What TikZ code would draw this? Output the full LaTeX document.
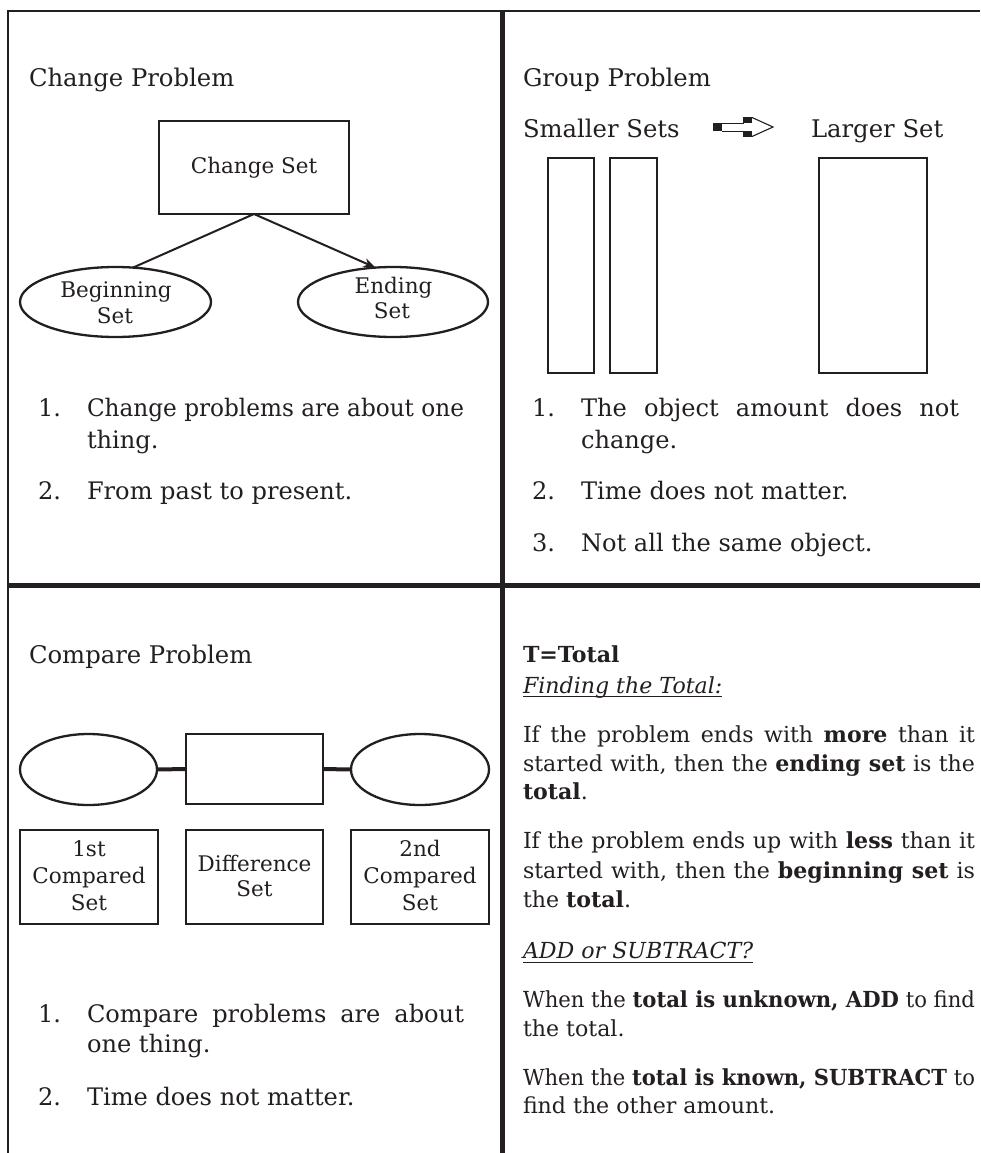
\documentclass[tikz,border=0pt]{standalone}
\usepackage{graphicx}
\usepackage{fontspec}
\setmainfont{DejaVu Serif}
\usetikzlibrary{shapes.geometric,arrows.meta}
\definecolor{ink}{RGB}{35,31,32}
\newcommand{\fTitle}{\fontsize{24.3}{30}\selectfont}
\newcommand{\fList}{\fontsize{24.1}{32}\selectfont}
\newcommand{\fBody}{\fontsize{22.1}{28}\selectfont}
\newcommand{\fLab}{\fontsize{21.5}{27}\selectfont}
\newsavebox{\jlbox}
\newcommand{\jl}[2]{\sbox{\jlbox}{#2}\ifdim\wd\jlbox>#1\relax\resizebox{#1}{\ht\jlbox}{\usebox{\jlbox}}\else\makebox[#1][s]{#2}\fi}
\begin{document}
\begin{tikzpicture}[x=1pt,y=-1pt,
  txt/.style={inner sep=0pt, outer sep=0pt, anchor=base west, text=ink},
  ctxt/.style={inner sep=0pt, outer sep=0pt, anchor=base, text=ink},
  num/.style={inner sep=0pt, outer sep=0pt, anchor=base east, text=ink},
  title/.style={txt, font=\fTitle},
  listtxt/.style={txt, font=\fList},
  listnum/.style={num, font=\fList},
  body/.style={txt, font=\fBody},
  lab/.style={ctxt, font=\fLab},
  setbox/.style={draw=ink, line width=2.3pt, rectangle, inner sep=0pt, outer sep=0pt},
  setoval/.style={draw=ink, line width=2.3pt, ellipse, inner sep=0pt, outer sep=0pt},
  conn/.style={draw=ink, line width=2pt},
  thickconn/.style={draw=ink, line width=4pt},
  frame/.style={draw=ink, line width=2.5pt},
  divider/.style={draw=ink, line width=5pt}
]
\useasboundingbox (0,0) rectangle (980,1153);
\fill[white] (0,0) rectangle (980,1153);

% ---------- frame ----------
\draw[frame] (8,11) -- (980,11);
\draw[frame] (8,9.75) -- (8,1153);
\draw[divider] (502,9.75) -- (502,1153);
\draw[divider] (8,585.5) -- (980,585.5);

% ---------- Change Problem ----------
\node[title] (tchange) at (29,87) {Change Problem};
\node[setbox, minimum width=190pt, minimum height=93pt] (cs) at (254,167.5) {};
\node[lab] (csl) at (254,173) {Change Set};
\node[setoval, minimum width=191pt, minimum height=70pt] (beg) at (115.5,302) {};
\node[lab] (begl1) at (116,297) {Beginning};
\node[lab] (begl2) at (115,323) {Set};
\node[setoval, minimum width=190pt, minimum height=70pt] (endset) at (393,302) {};
\node[lab] (endl1) at (393.5,293) {Ending};
\node[lab] (endl2) at (392,318) {Set};
\draw[conn] (cs.south) -- (beg.63);
\draw[conn, -{Stealth[length=12pt,width=9pt]}] (cs.south) -- (endset.117);

\node[listnum] (cn1) at (61,416) {1.};
\node[listtxt] (ct1) at (87,416) {\jl{377pt}{Change problems are about one}};
\node[listtxt] (ct1b) at (87,448) {thing.};
\node[listnum] (cn2) at (61,499) {2.};
\node[listtxt] (ct2) at (87,499) {From past to present.};

% ---------- Group Problem ----------
\node[title] (tgroup) at (523,87) {Group Problem};
\node[title] (tsmall) at (523,137) {Smaller Sets};
\node[title] (tlarge) at (811,137) {Larger Set};
% arrow icon
\fill[ink] (713,123) rectangle (722,131);
\draw[ink, line width=0.9pt] (722,123) -- (744,123);
\draw[ink, line width=0.9pt] (722,131) -- (744,131);
\fill[ink] (743,117) rectangle (752,123);
\fill[ink] (743,131) rectangle (752,137);
\draw[ink, line width=1.1pt, line join=miter] (752,117.5) -- (773,127) -- (752,136.5);

\node[setbox, minimum width=46pt, minimum height=215pt] (s1) at (571,265.5) {};
\node[setbox, minimum width=47pt, minimum height=215pt] (s2) at (633.5,265.5) {};
\node[setbox, minimum width=108pt, minimum height=215pt] (lg) at (873,265.5) {};

\node[listnum] (gn1) at (555,416) {1.};
\node[listtxt] (gt1) at (581,416) {\jl{378pt}{The object amount does not}};
\node[listtxt] (gt1b) at (581,448) {change.};
\node[listnum] (gn2) at (555,499) {2.};
\node[listtxt] (gt2) at (581,499) {Time does not matter.};
\node[listnum] (gn3) at (555,551) {3.};
\node[listtxt] (gt3) at (581,551) {Not all the same object.};

% ---------- Compare Problem ----------
\node[title] (tcompare) at (29,663) {Compare Problem};
\node[setoval, minimum width=137pt, minimum height=71pt] (e1) at (88.5,769.5) {};
\node[setbox, minimum width=137pt, minimum height=70pt] (dr) at (254.5,769) {};
\node[setoval, minimum width=138pt, minimum height=71pt] (e2) at (420,769.5) {};
\draw[thickconn] (e1.east) -- (dr.west);
\draw[thickconn] (dr.east) -- (e2.west);

\node[setbox, minimum width=138pt, minimum height=94pt] (b1) at (89,877) {};
\node[setbox, minimum width=137pt, minimum height=94pt] (b2) at (254.5,877) {};
\node[setbox, minimum width=138pt, minimum height=94pt] (b3) at (420,877) {};
\node[lab] (b1a) at (89,856) {1st};
\node[lab] (b1b) at (89,883) {Compared};
\node[lab] (b1c) at (89,910) {Set};
\node[lab] (b2a) at (254.5,871) {Difference};
\node[lab] (b2b) at (254.5,896) {Set};
\node[lab] (b3a) at (420,856) {2nd};
\node[lab] (b3b) at (420,883) {Compared};
\node[lab] (b3c) at (420,910) {Set};

\node[listnum] (pn1) at (61,1022) {1.};
\node[listtxt] (pt1) at (87,1022) {\jl{377pt}{Compare problems are about}};
\node[listtxt] (pt1b) at (87,1052) {one thing.};
\node[listnum] (pn2) at (61,1105) {2.};
\node[listtxt] (pt2) at (87,1105) {Time does not matter.};

% ---------- T = Total ----------
\node[body, font=\fBody\bfseries] (ttot) at (523,662) {T=Total};
\node[body, font=\fBody\itshape] (tfind) at (523,693) {Finding the Total:};
\draw[ink, line width=0.8pt] ([yshift=-3pt]tfind.base west) -- ([yshift=-3pt]tfind.base east);

\node[body] (r1) at (523,742) {\jl{452pt}{If the problem ends with \textbf{more} than it}};
\node[body] (r2) at (523,771) {\jl{452pt}{started with, then the \textbf{ending set} is the}};
\node[body] (r3) at (523,799) {\textbf{total}.};
\node[body] (r4) at (523,848) {\jl{452pt}{If the problem ends up with \textbf{less} than it}};
\node[body] (r5) at (523,878) {\jl{452pt}{started with, then the \textbf{beginning set} is}};
\node[body] (r6) at (523,907) {the \textbf{total}.};
\node[body, font=\fBody\itshape] (tadd) at (523,958) {ADD or SUBTRACT?};
\draw[ink, line width=0.8pt] ([yshift=-4pt]tadd.base west) -- ([yshift=-4pt]tadd.base east);
\node[body] (r7) at (523,1007) {\jl{452pt}{When the \textbf{total is unknown, ADD} to find}};
\node[body] (r8) at (523,1036) {the total.};
\node[body] (r9) at (523,1085) {\jl{452pt}{When the \textbf{total is known, SUBTRACT} to}};
\node[body] (r10) at (523,1113) {find the other amount.};
\end{tikzpicture}
\end{document}
